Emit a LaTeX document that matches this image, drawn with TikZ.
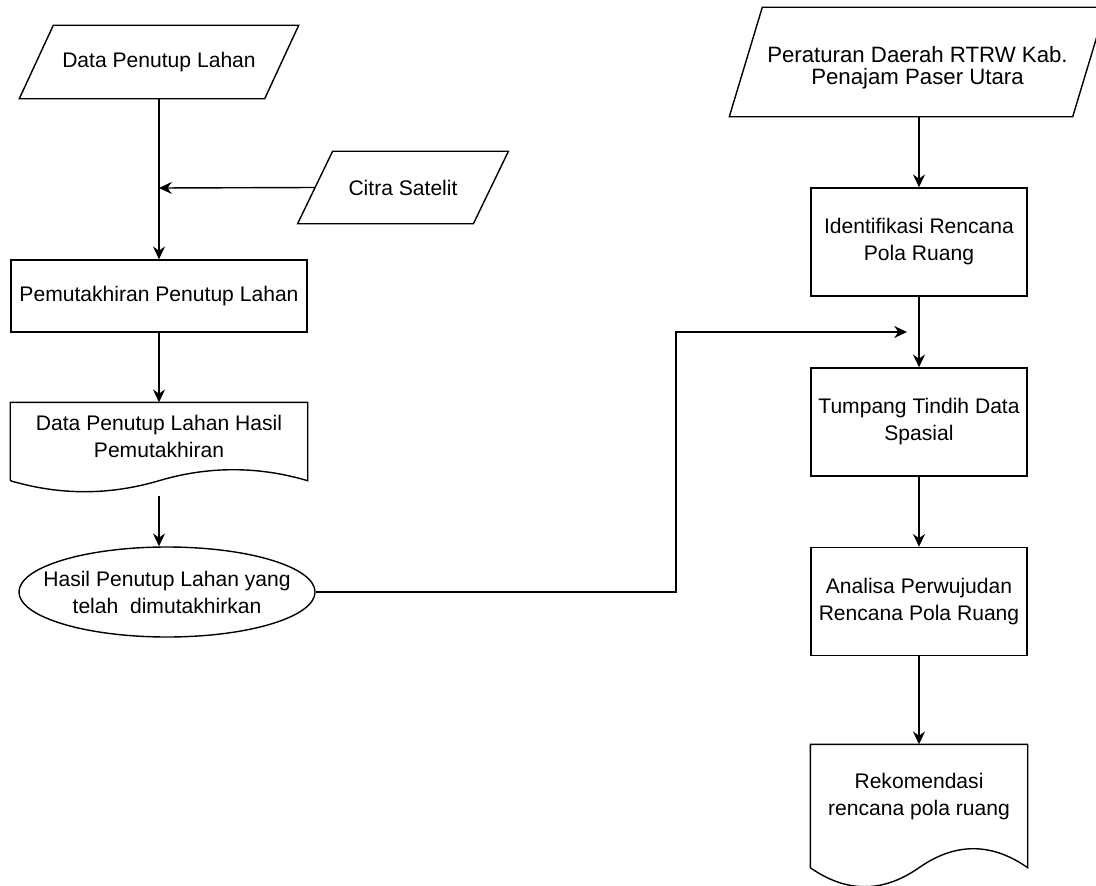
\documentclass[tikz,border=0pt]{standalone}
\usepackage{fontspec}
\setmainfont{Liberation Sans}
\usetikzlibrary{arrows.meta,calc}

\newcommand{\ioshape}[2]{%
  \draw ($(#1.south west)+(-#2/2,0)$) -- ($(#1.north west)+(#2/2,0)$)
    -- ($(#1.north east)+(#2/2,0)$) -- ($(#1.south east)+(-#2/2,0)$) -- cycle;}
\newcommand{\docshape}[2]{%
  \draw ($(#1.south west)+(0,#2)$) -- (#1.north west) -- (#1.north east)
    -- ($(#1.south east)+(0,#2)$)
    .. controls ($(#1.south east)!0.333!(#1.south)+(0,-#2/3)$)
    and ($(#1.south east)!0.667!(#1.south)+(0,-#2/3)$) .. ($(#1.south)+(0,#2)$)
    .. controls ($(#1.south)!0.333!(#1.south west)+(0,7*#2/3)$)
    and ($(#1.south)!0.667!(#1.south west)+(0,7*#2/3)$) .. ($(#1.south west)+(0,#2)$);}

\begin{document}
\begin{tikzpicture}[
    x=0.25mm, y=-0.25mm,
    line width=1pt,
    font=\fontsize{15pt}{19.2pt}\selectfont,
    proc/.style={draw, rectangle, align=center, inner sep=1mm,
      minimum width=54mm, minimum height=27mm},
    io/.style={rectangle, align=center, inner sep=1mm},
    docnode/.style={rectangle, align=center, inner sep=1mm},
    flow/.style={-{Stealth[length=3.2mm,width=3mm]}},
  ]
  \useasboundingbox (0,0) rectangle (1096,886);

  \node[io, minimum width=61mm, minimum height=18mm] (dataPL) at (159,62) {Data Penutup Lahan};
  \node[io, minimum width=43.6mm, minimum height=17.75mm] (citra) at (403,187.5) {Citra Satelit};
  \node[proc, minimum width=74mm, minimum height=18mm] (pemutakhiran) at (159,296) {Pemutakhiran Penutup Lahan};
  \node[docnode, minimum width=74mm, minimum height=16.5mm] (dataHasil) at (159,436) {Data Penutup Lahan Hasil\\Pemutakhiran};
  \node[rectangle, align=center, minimum width=74mm, minimum height=22.5mm] (hasilPL) at (167,592) {Hasil Penutup Lahan yang\\telah\ \ dimutakhirkan};

  \node[io, minimum width=85.5mm, minimum height=27mm, font=\fontsize{15.8pt}{15.3pt}\selectfont] (perda) at (917.5,62)
    {\rule{0pt}{7mm}Peraturan Daerah RTRW Kab.\\Penajam Paser Utara};
  \node[proc] (identifikasi) at (919,242) {Identifikasi Rencana\\Pola Ruang};
  \node[proc] (tumpang) at (919,422) {Tumpang Tindih Data\\Spasial};
  \node[proc] (analisa) at (919,601.5) {Analisa Perwujudan\\Rencana Pola Ruang};
  \node[docnode, minimum width=54mm, minimum height=25.75mm] (rekomendasi) at (919,796.5) {Rekomendasi\\rencana pola ruang};

  \ioshape{dataPL}{34}
  \ioshape{citra}{35}
  \ioshape{perda}{33}
  \docshape{dataHasil}{11}
  \docshape{rekomendasi}{19}
  \draw (hasilPL.center) ellipse [x radius=37mm, y radius=11.25mm];

  \coordinate (join) at (159,188);
  \coordinate (bend) at (676,592);
  \coordinate (merge) at (907,332);

  \draw[flow] (dataPL.south) -- (pemutakhiran.north);
  \draw[flow] (citra.west) -- (join);
  \draw[flow] (pemutakhiran.south) -- (dataHasil.north);
  \draw[flow] ($(dataHasil.south)+(0,26)$) -- (hasilPL.north -| dataHasil.south);
  \draw[flow] (hasilPL.east) -- (bend) |- (merge);
  \draw[flow] (identifikasi.north |- perda.south) -- (identifikasi.north);
  \draw[flow] (identifikasi.south) -- (tumpang.north);
  \draw[flow] (tumpang.south) -- (analisa.north);
  \draw[flow] (analisa.south) -- (rekomendasi.north);
\end{tikzpicture}
\end{document}
